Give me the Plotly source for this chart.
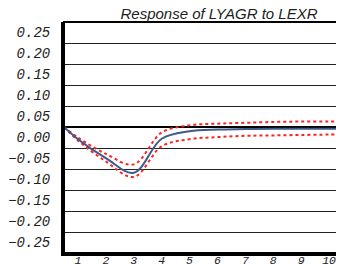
import plotly.graph_objects as go

periods = [1, 2, 3, 4, 5, 6, 7, 8, 9, 10]
response = [-0.029, -0.074, -0.109, -0.028, -0.010, -0.006, -0.005, -0.004, -0.004, -0.004]
upper_band = [-0.025, -0.064, -0.089, -0.013, 0.004, 0.008, 0.010, 0.012, 0.013, 0.013]
lower_band = [-0.032, -0.082, -0.119, -0.046, -0.029, -0.024, -0.021, -0.020, -0.019, -0.018]
# the curves run from the left frame edge (where all three read 0.00) to the right frame edge
left_edge, right_edge = 0.5, 10.5
left_edge_value = 0.0
y_ticks = [0.25, 0.20, 0.15, 0.10, 0.05, 0.00, -0.05, -0.10, -0.15, -0.20, -0.25]
y_labels = ["0.25", "0.20", "0.15", "0.10", "0.05", "0.00",
            "\u22120.05", "\u22120.10", "\u22120.15", "\u22120.20", "\u22120.25"]
x_labels = [str(p) for p in periods]


def full_span(values):
    return [left_edge] + periods + [right_edge], [left_edge_value] + values + [values[-1]]


fig = go.Figure()
for vals, color, dash in [(upper_band, "#ff2020", "dot"),
                          (lower_band, "#ff2020", "dot"),
                          (response, "#3c5a8a", "solid")]:
    xs, ys = full_span(vals)
    fig.add_trace(go.Scatter(x=xs, y=ys, mode="lines",
                             line=dict(color=color, width=2, dash=dash, shape="spline",
                                       smoothing=1.0),
                             hoverinfo="skip"))

tick_font = dict(family="Liberation Mono", size=14, color="#222", style="italic")

# page body has an 8px margin: figure is sized to fill the rest of the window
W, H = 336, 260
fig.update_layout(
    width=W, height=H,
    margin=dict(l=56, r=1, t=14, b=15, autoexpand=False),
    paper_bgcolor="white", plot_bgcolor="white",
    showlegend=False,
    title=dict(text="Response of LYAGR to LEXR", x=211/W, xanchor="center",
               xref="container", y=1 - 6/H, yanchor="middle", yref="container",
               font=dict(family="Liberation Sans", size=15, color="#222", style="italic")),
    xaxis=dict(range=[left_edge, right_edge], tickvals=periods, ticktext=x_labels,
               showgrid=False, zeroline=False,
               showline=True, linecolor="black", linewidth=3, ticks="",
               tickfont=dict(family="Liberation Mono", size=11.5, color="#222", style="italic"),
               ticklabelstandoff=-6, automargin=False),
    yaxis=dict(range=[-0.30, 0.25], tickvals=y_ticks, ticktext=y_labels,
               showgrid=True, gridcolor="#222", gridwidth=1,
               zeroline=True, zerolinecolor="black", zerolinewidth=2,
               showline=True, linecolor="black", linewidth=3, ticks="",
               tickfont=tick_font, ticklabelposition="outside bottom",
               ticklabelstandoff=8, automargin=False),
    shapes=[dict(type="rect", xref="paper", yref="paper", x0=0, x1=1, y0=0, y1=1,
                 line=dict(color="black", width=2), layer="above")],
)

fig.write_html("out.html")
